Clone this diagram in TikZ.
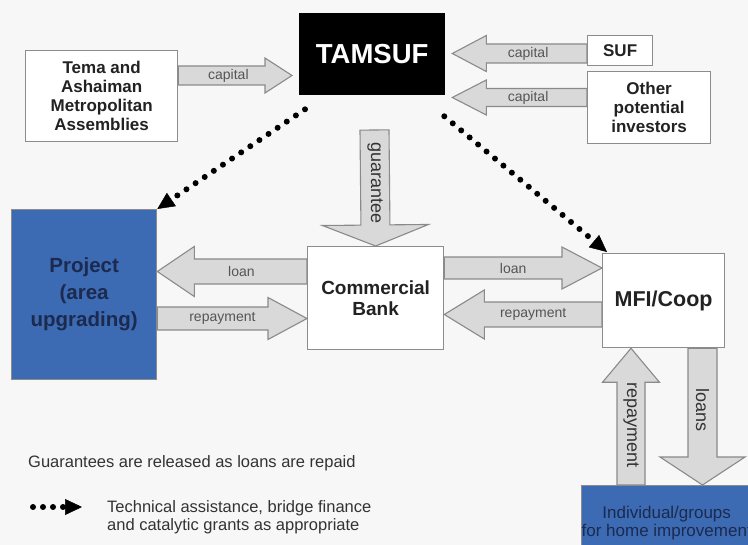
\documentclass[tikz,border=0pt]{standalone}
\usepackage{fontspec}
\setmainfont{Liberation Sans}
\usepackage{xcolor}
\usepackage{tikz}
\usetikzlibrary{arrows.meta, positioning, calc}

\definecolor{bgpaper}{HTML}{F7F7F7}
\definecolor{boxline}{HTML}{8C8C8C}
\definecolor{arrline}{HTML}{8A8A8A}
\definecolor{arrfill}{HTML}{D9D9D9}
\definecolor{projblue}{HTML}{3C6BB4}
\definecolor{navyink}{HTML}{1B2A4E}
\definecolor{inkdark}{HTML}{222222}
\definecolor{labgray}{HTML}{555555}
\definecolor{notegray}{HTML}{333333}

\begin{document}
\begin{tikzpicture}[x=1pt, y=1pt,
    box/.style={draw=boxline, line width=1.3pt, fill=white, inner sep=0pt, anchor=north west,
      align=center, text=inkdark, font=\bfseries\fontsize{17}{19}\selectfont},
    blubox/.style={box, fill=projblue, text=navyink},
    hlab/.style={font=\fontsize{14}{14}\selectfont, text=labgray, inner sep=0pt},
    vlab/.style={font=\fontsize{18}{18}\selectfont, text=notegray, inner sep=0pt, rotate=-90},
    fat/.style n args={5}{draw=arrline, fill=arrfill, line width=1.1pt, line join=miter,
      to path={let \p1=(\tikztostart), \p2=(\tikztotarget),
          \n1={atan2(\y2-\y1,\x2-\x1)}, \n2={veclen(\x2-\x1,\y2-\y1)} in
        ($(\p1)+({\n1+90}:#1)$)
        -- ($(\p1)+(\n1:{\n2-#3})+({\n1+90}:#1)$)
        -- ($(\p1)+(\n1:{\n2-#3})+({\n1+90}:#2)$)
        -- (\p2)
        -- ($(\p1)+(\n1:{\n2-#3})+({\n1-90}:#2)$)
        -- ($(\p1)+(\n1:{\n2-#3})+({\n1-90}:#1)$)
        -- ($(\p1)+({\n1-90}:#1)$) -- cycle
        node[#5] at ($(\p1)+(\n1:{(\n2-#3/2)/2})$) {#4}}},
    ta/.style={black, line width=6pt, line cap=round, dash pattern=on 0pt off 11pt,
      -{Triangle[length=17pt, width=16pt, line width=0.5pt]}}
  ]
  % paper
  \fill[bgpaper] (0,0) rectangle (748,-545);
  \useasboundingbox (0,0) rectangle (748,-545);

  % fund and its sources
  \node[box, fill=black, draw=black, text=white, minimum width=145, minimum height=81,
    font=\bfseries\fontsize{27.5}{30}\selectfont] (tamsuf) at (299,-13) {TAMSUF};
  \node[box, minimum width=152, minimum height=91] (tema) at (25,-50)
    {Tema and\\Ashaiman\\Metropolitan\\Assemblies};
  \node[box, minimum width=65, minimum height=30] (suf) at (587,-35) {SUF};
  \node[box, minimum width=123, minimum height=72] (other) at (587,-71)
    {Other\\potential\\investors};

  % lenders
  \node[blubox, minimum width=145, minimum height=170,
    font=\bfseries\fontsize{20.5}{27}\selectfont] (proj) at (11,-209) {Project\\(area\\upgrading)};
  \node[box, minimum width=136, minimum height=103,
    font=\bfseries\fontsize{19}{21}\selectfont] (bank) at (307,-246) {Commercial\\Bank};
  \node[box, minimum width=122, minimum height=94,
    font=\bfseries\fontsize{21.5}{24}\selectfont] (mfi) at (602,-253) {MFI/Coop};
  \node[blubox, minimum width=168, minimum height=75, inner xsep=0pt,
    font=\fontsize{17}{18}\selectfont] (indiv) at (581,-485)
    {Individual/groups\\for home improvement};

  % capital
  \draw[fat={9.5}{17.5}{27}{capital}{hlab}] (tema.east |- 0,-75.5)
    to ($(tamsuf.west |- 0,-75.5)+(-7,0)$);
  \draw[fat={9.5}{18}{34}{capital}{hlab}] (suf.west |- 0,-53.5)
    to ($(tamsuf.east |- 0,-53.5)+(7,0)$);
  \draw[fat={9}{17.5}{34}{capital}{hlab}] (other.west |- 0,-97.5)
    to ($(tamsuf.east |- 0,-97.5)+(7,0)$);

  % guarantee
  \coordinate (gtop) at (374.5,-130);
  \draw[fat={14.5}{53}{21}{guarantee}{vlab}] (gtop) to (bank.north);

  % loans and repayments
  \draw[fat={12.5}{25}{37}{loan}{hlab}] (bank.west |- 0,-271.5) to (proj.east |- 0,-271.5);
  \draw[fat={11.5}{21}{39}{repayment}{hlab}] (proj.east |- 0,-318.5) to (bank.west |- 0,-318.5);
  \draw[fat={11}{21}{40}{loan}{hlab}] (bank.east |- 0,-268) to (mfi.west |- 0,-268);
  \draw[fat={12.5}{24.5}{40}{repayment}{hlab}] (mfi.west |- 0,-314.5) to (bank.east |- 0,-314.5);
  \draw[fat={14}{28.5}{34}{repayment}{vlab}] (indiv.north -| 631,0) to (mfi.south -| 631,0);
  \draw[fat={14.5}{42.5}{28}{loans}{vlab}] (mfi.south -| 702.5,0) to (indiv.north -| 702.5,0);

  % technical assistance
  \draw[ta] ($(tamsuf.south west)+(6,-14)$) -- (proj.north east);
  \draw[ta] ($(tamsuf.south east)+(-1,-21)$) -- ($(mfi.north west)+(5,1)$);

  % key
  \node[anchor=west, inner sep=0pt, text=notegray, font=\fontsize{16.5}{18}\selectfont]
    (gnote) at (28,-463) {Guarantees are released as loans are repaid};
  \node[anchor=west, inner sep=0pt, align=left, text=notegray, font=\fontsize{16.5}{18}\selectfont]
    (tanote) at (107,-517) {Technical assistance, bridge finance\\and catalytic grants as appropriate};
  \coordinate (keyA) at (33,-507);
  \coordinate (keyB) at (82,-507);
  \draw[ta, dash pattern=on 0pt off 10pt] (keyA) -- (keyB);
\end{tikzpicture}
\end{document}
